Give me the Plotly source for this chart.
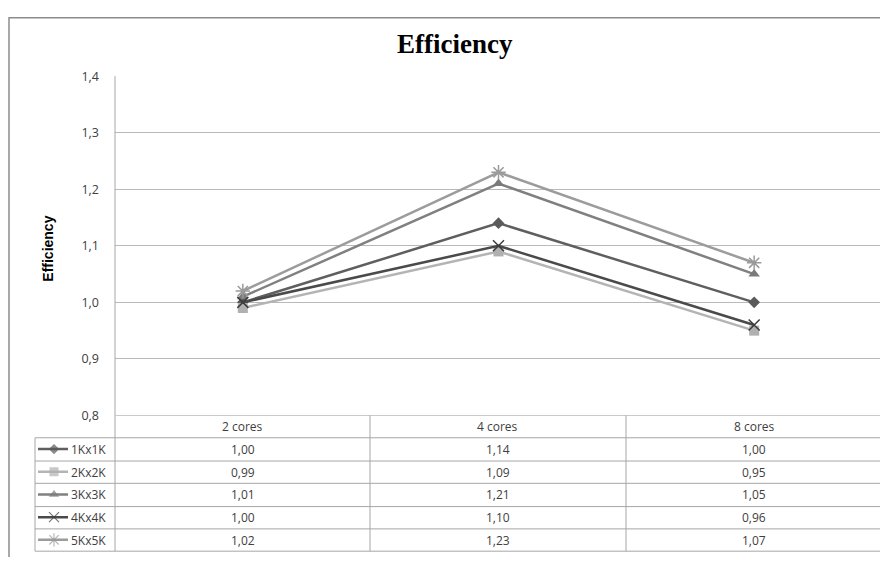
import plotly.graph_objects as go

categories = ["2 cores", "4 cores", "8 cores"]
series_names = ["1Kx1K", "2Kx2K", "3Kx3K", "4Kx4K", "5Kx5K"]
eff_1k = [1.00, 1.14, 1.00]
eff_2k = [0.99, 1.09, 0.95]
eff_3k = [1.01, 1.21, 1.05]
eff_4k = [1.00, 1.10, 0.96]
eff_5k = [1.02, 1.23, 1.07]
series_values = [eff_1k, eff_2k, eff_3k, eff_4k, eff_5k]
y_ticks = [0.8, 0.9, 1.0, 1.1, 1.2, 1.3, 1.4]

line_colors = ["#5f5f5f", "#b4b4b4", "#808080", "#4a4a4a", "#9c9c9c"]
marker_colors = ["#5a5a5a", "#b0b0b0", "#7a7a7a", "#3c3c3c", "#9a9a9a"]
symbols = ["diamond", "square", "triangle-up", "x-thin-open", "asterisk-open"]
msizes = [9, 10, 10, 11, 12]

# the page body has an 8px margin; the figure is offset so that
# positions below are in window pixels
OFF = 8
W, H = 888 - OFF, 565 - OFF
def px(x):
    return (x - OFF) / W
def py(y):
    return 1 - (y - OFF) / H

PL, PR, PT, PB = 115, 882, 69, 419
row_edges = [419, 442, 466, 489, 513, 536, 559]
col_edges = [115, 370, 626, 882]
LEG_L = 35

TXT = "#404040"
GRID = "#b9b9b9"
TBL = "#a6a6a6"
FONT = "Open Sans"

fig = go.Figure()

for i, name in enumerate(series_names):
    open_sym = symbols[i].endswith("open")
    fig.add_trace(go.Scatter(
        x=categories, y=series_values[i], name=name, mode="lines+markers",
        line=dict(color=line_colors[i], width=2.5),
        marker=dict(symbol=symbols[i], size=msizes[i], color=marker_colors[i],
                    line=dict(color=marker_colors[i], width=1.5 if open_sym else 0)),
        xaxis="x", yaxis="y", showlegend=False, cliponaxis=False,
    ))

# legend keys inside the data table (own small axis)
for i, name in enumerate(series_names):
    open_sym = symbols[i].endswith("open")
    fig.add_trace(go.Scatter(
        x=[3, 19, 33], y=[i, i, i], mode="lines+markers",
        line=dict(color=line_colors[i], width=2.5),
        marker=dict(symbol=symbols[i], size=[0, msizes[i] - 1, 0], color=marker_colors[i],
                    line=dict(color=marker_colors[i], width=1.2 if open_sym else 0)),
        xaxis="x2", yaxis="y2", showlegend=False, hoverinfo="skip",
    ))

def hline(x0, x1, y, color, width=1):
    return dict(type="line", xref="paper", yref="paper", x0=px(x0), x1=px(x1), y0=py(y), y1=py(y),
                line=dict(color=color, width=width))
def vline(x, y0, y1, color, width=1):
    return dict(type="line", xref="paper", yref="paper", x0=px(x), x1=px(x), y0=py(y0), y1=py(y1),
                line=dict(color=color, width=width))

shapes = []
shapes.append(hline(9, 888, 8.75, "#8c8c8c", 1.5))
shapes.append(vline(9, 8, 565, "#8c8c8c", 1.5))
shapes.append(vline(PL, PT, row_edges[-1], TBL))
for j, ry in enumerate(row_edges):
    shapes.append(hline(PL if j == 0 else LEG_L, PR, ry, "#c8c8c8" if j == 0 else TBL))
shapes.append(vline(LEG_L, row_edges[1], row_edges[-1], TBL))
for cx in col_edges[1:]:
    shapes.append(vline(cx, row_edges[0], row_edges[-1], TBL))
shapes.append(vline(PR + 2, row_edges[0], row_edges[-1], "#d4d4d4", 2))

def text(t, x, y, size=12, family=FONT, color=TXT, xanchor="center", angle=0):
    return dict(text=t, xref="paper", yref="paper", x=px(x), y=py(y), xanchor=xanchor, yanchor="middle",
                textangle=angle, showarrow=False, font=dict(family=family, size=size, color=color))

annotations = []
annotations.append(text("<b>Efficiency</b>", 455, 36, size=27, family="Liberation Serif", color="#000000"))
annotations.append(text("<b>Efficiency</b>", 48, 247, size=14, family="Liberation Sans", color="#000000",
                        angle=-90))
col_centers = [(col_edges[k] + col_edges[k + 1]) / 2 for k in range(3)]
for k, cat in enumerate(categories):
    annotations.append(text(cat, col_centers[k], (row_edges[0] + row_edges[1]) / 2))
for i, name in enumerate(series_names):
    ry = (row_edges[i + 1] + row_edges[i + 2]) / 2
    annotations.append(text(name, 69, ry, xanchor="left"))
    for k in range(3):
        annotations.append(text(f"{series_values[i][k]:.2f}".replace(".", ","), col_centers[k], ry))

fig.update_layout(
    width=W, height=H, autosize=False,
    margin=dict(l=0, r=0, t=0, b=0),
    paper_bgcolor="white", plot_bgcolor="white",
    separators=",.",
    xaxis=dict(domain=[px(PL), px(PR)], type="category", range=[-0.5, 2.5], showticklabels=False,
               showgrid=False, zeroline=False, showline=False, fixedrange=True),
    yaxis=dict(domain=[py(PB), py(PT)], range=[0.8, 1.4], tickvals=y_ticks, tickformat=".1f",
               showgrid=True, gridcolor=GRID, gridwidth=1, zeroline=False, showline=False,
               ticks="", ticklabelstandoff=15,
               tickfont=dict(family=FONT, size=12.5, color=TXT), fixedrange=True),
    xaxis2=dict(domain=[px(LEG_L), px(PL)], range=[0, 80], visible=False, fixedrange=True),
    yaxis2=dict(domain=[py(row_edges[-1]), py(row_edges[1])], range=[4.5, -0.5], visible=False,
                anchor="x2", fixedrange=True),
    shapes=shapes, annotations=annotations,
)

fig.write_html("out.html")
